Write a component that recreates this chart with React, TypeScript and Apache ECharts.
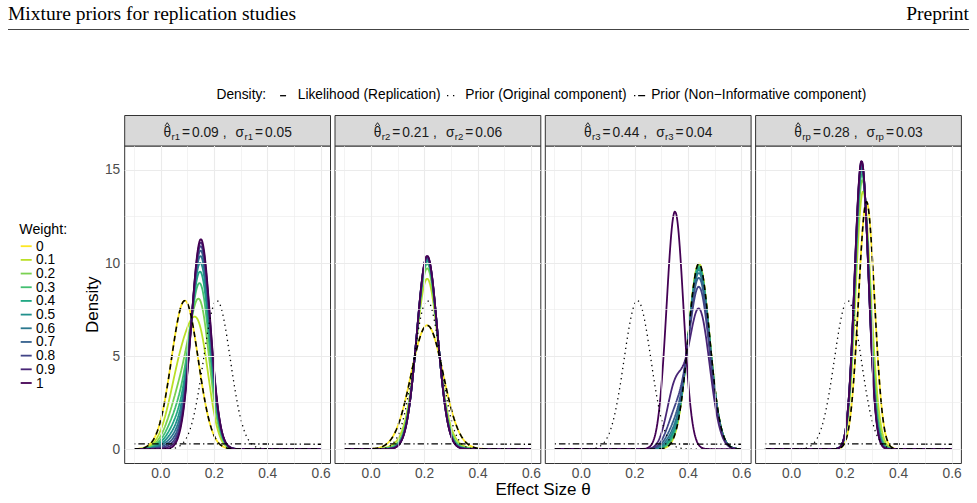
import React, { useEffect, useRef } from "react";
import * as echarts from "echarts";

// Study summaries shown in the facet strips
const panelKeys = ["r1", "r2", "r3", "rp"];
const replicationEstimates = [0.09, 0.21, 0.44, 0.28];
const replicationSEs = [0.05, 0.06, 0.04, 0.03];

// Mixture prior components
const originalEstimate = 0.21;
const originalSE = 0.05;
const nonInformativeMean = 0;
const nonInformativeVariance = 2;

// Prior weight given to the original-study component
const weights = [0, 0.1, 0.2, 0.3, 0.4, 0.5, 0.6, 0.7, 0.8, 0.9, 1];
const weightLabels = ["0", "0.1", "0.2", "0.3", "0.4", "0.5", "0.6", "0.7", "0.8", "0.9", "1"];
const weightColors = [
  "#FDE725", "#BBDF27", "#7AD151", "#43BF71", "#22A884", "#21908C",
  "#2A788E", "#35608D", "#414487", "#482576", "#440154",
];

// Effect-size support where densities are evaluated
const effectFrom = -0.1;
const effectTo = 0.6;
const effectStep = 0.002;

// Axis breaks
const xTicks = [0, 0.2, 0.4, 0.6];
const xMinorBreaks = [-0.1, 0.1, 0.3, 0.5];
const yTicks = [0, 5, 10, 15];
const yMinorBreaks = [2.5, 7.5, 12.5];

const densityKeys = [
  "Likelihood (Replication)",
  "Prior (Original component)",
  "Prior (Non\u2212Informative component)",
];

// ---- layout ----
const FONT = '"Liberation Sans", Arial, Helvetica, sans-serif';
const SERIF = '"Liberation Serif", "Times New Roman", serif';
const TEXT = 13.75;
const SUB = 9.6;
const PANEL_LEFT = 124.7;
const PANEL_STEP = 210.3;
const PANEL_W = 205.8;
const PANEL_TOP = 146;
const PANEL_H = 317.5;
const STRIP_TOP = 115.5;
const X_MIN = -0.135;
const X_MAX = 0.635;
const Y_MIN = -0.776;
const Y_MAX = 16.29;

const SQRT2PI = Math.sqrt(2 * Math.PI);
function normalPdf(x: number, m: number, sd: number) {
  const z = (x - m) / sd;
  return Math.exp(-0.5 * z * z) / (sd * SQRT2PI);
}

const effectGrid: number[] = [];
for (let k = 0; effectFrom + k * effectStep <= effectTo + 1e-9; k++) {
  effectGrid.push(+(effectFrom + k * effectStep).toFixed(4));
}

function posteriorCurve(panel: number, weight: number): number[][] {
  const y = replicationEstimates[panel];
  const s2 = replicationSEs[panel] ** 2;
  const so2 = originalSE ** 2;
  const v1 = 1 / (1 / so2 + 1 / s2);
  const m1 = v1 * (originalEstimate / so2 + y / s2);
  const v0 = 1 / (1 / nonInformativeVariance + 1 / s2);
  const m0 = v0 * (nonInformativeMean / nonInformativeVariance + y / s2);
  const f1 = normalPdf(y, originalEstimate, Math.sqrt(so2 + s2));
  const f0 = normalPdf(y, nonInformativeMean, Math.sqrt(nonInformativeVariance + s2));
  const q = (weight * f1) / (weight * f1 + (1 - weight) * f0);
  return effectGrid.map((x) => [
    x,
    q * normalPdf(x, m1, Math.sqrt(v1)) + (1 - q) * normalPdf(x, m0, Math.sqrt(v0)),
  ]);
}

function normalCurve(m: number, sd: number): number[][] {
  return effectGrid.map((x) => [x, normalPdf(x, m, sd)]);
}

let measureCtx: CanvasRenderingContext2D | null = null;
function measure(text: string, size: number) {
  if (!measureCtx) measureCtx = document.createElement("canvas").getContext("2d");
  measureCtx!.font = `${size}px "Liberation Sans"`;
  return measureCtx!.measureText(text).width;
}

// text element placed by its alphabetic baseline
function baselineText(text: string, x: number, baseline: number, size: number, fill: string, align = "left", family = FONT, central = 0.3465) {
  return {
    type: "text",
    x,
    y: baseline - central * size,
    silent: true,
    style: { text, fontSize: size, fontFamily: family, fill, align, verticalAlign: "middle" },
  };
}

function stripElements(i: number) {
  const left = PANEL_LEFT + i * PANEL_STEP;
  const cx = left + PANEL_W / 2;
  const baseline = 137.3;
  const key = panelKeys[i];
  const segs = [
    { text: "\u03B8", size: TEXT, gap: 0, sub: false },
    { text: key, size: SUB, gap: 0.4, sub: true },
    { text: "=", size: TEXT, gap: 2, sub: false },
    { text: replicationEstimates[i].toFixed(2), size: TEXT, gap: 2, sub: false },
    { text: ",", size: TEXT, gap: 4, sub: false },
    { text: "\u03C3", size: TEXT, gap: 9, sub: false },
    { text: key, size: SUB, gap: 0.4, sub: true },
    { text: "=", size: TEXT, gap: 2, sub: false },
    { text: replicationSEs[i].toFixed(2), size: TEXT, gap: 2, sub: false },
  ];
  const widths = segs.map((s) => measure(s.text, s.size));
  const total = segs.reduce((a, s, k) => a + s.gap + widths[k], 0);
  let x = cx - total / 2;
  const out: any[] = [
    {
      type: "rect",
      silent: true,
      shape: { x: left, y: STRIP_TOP, width: PANEL_W, height: PANEL_TOP - STRIP_TOP },
      style: { fill: "#D9D9D9", stroke: "#333333", lineWidth: 1 },
    },
  ];
  let thetaCenter = 0;
  segs.forEach((s, k) => {
    x += s.gap;
    if (k === 0) thetaCenter = x + widths[k] / 2;
    out.push(baselineText(s.text, x, baseline + (s.sub ? 2.8 : 0), s.size, "#1A1A1A"));
    x += widths[k];
  });
  out.push({
    type: "polyline",
    silent: true,
    shape: {
      points: [
        [thetaCenter - 2.3, baseline - 11.2],
        [thetaCenter, baseline - 14.6],
        [thetaCenter + 2.3, baseline - 11.2],
      ],
    },
    style: { stroke: "#1A1A1A", lineWidth: 0.9, fill: "none" },
  });
  return out;
}

function topLegend() {
  const out: any[] = [];
  const keyY = 95.7;
  const baseline = 98.8;
  let x = 216.5;
  out.push(baselineText("Density:", x, baseline, TEXT, "#000000"));
  x += measure("Density:", TEXT) + 11;
  const keyDraw = [
    (b: number) => ({ type: "line", silent: true, shape: { x1: b + 2.9, y1: keyY, x2: b + 8.9, y2: keyY }, style: { stroke: "#000", lineWidth: 1.3 } }),
    (b: number) => ({ type: "line", silent: true, shape: { x1: b + 2.3, y1: keyY, x2: b + 9.6, y2: keyY }, style: { stroke: "#000", lineWidth: 1.3, lineDash: [1.3, 4.7] } }),
    (b: number) => ({ type: "line", silent: true, shape: { x1: b + 3.5, y1: keyY, x2: b + 14.6, y2: keyY }, style: { stroke: "#000", lineWidth: 1.3, lineDash: [1.3, 2.8, 7, 5] } }),
  ];
  densityKeys.forEach((label, k) => {
    out.push(keyDraw[k](x));
    x += 17.3 + 3.3;
    out.push(baselineText(label, x, baseline, TEXT, "#000000"));
    x += measure(label, TEXT) + 4;
  });
  return out;
}

function weightLegend() {
  const out: any[] = [baselineText("Weight:", 19.3, 234, 14.2, "#000000")];
  weights.forEach((_, k) => {
    const cy = 246.2 + k * 13.68;
    out.push({
      type: "line",
      silent: true,
      shape: { x1: 20.7, y1: cy, x2: 31.7, y2: cy },
      style: { stroke: weightColors[k], lineWidth: 1.8 },
    });
    out.push({
      type: "text",
      x: 36,
      y: cy,
      silent: true,
      style: { text: weightLabels[k], fontSize: TEXT, fontFamily: FONT, fill: "#000000", align: "left", verticalAlign: "middle" },
    });
  });
  return out;
}

function buildOption() {
  const grid: any[] = [];
  const xAxis: any[] = [];
  const yAxis: any[] = [];
  const series: any[] = [];

  panelKeys.forEach((key, i) => {
    grid.push({
      left: PANEL_LEFT + i * PANEL_STEP,
      top: PANEL_TOP,
      width: PANEL_W,
      height: PANEL_H,
      show: true,
      backgroundColor: "#FFFFFF",
      borderColor: "#333333",
      borderWidth: 1,
    });
    xAxis.push({
      type: "value",
      gridIndex: i,
      min: X_MIN,
      max: X_MAX,
      axisLine: { show: false },
      splitLine: { show: false },
      axisTick: { show: true, customValues: xTicks, length: 4, lineStyle: { color: "#333333", width: 1 } },
      axisLabel: {
        customValues: xTicks,
        formatter: (v: number) => v.toFixed(1),
        color: "#4D4D4D",
        fontSize: TEXT,
        fontFamily: FONT,
        margin: 3,
      },
    });
    const first = i === 0;
    yAxis.push({
      type: "value",
      gridIndex: i,
      min: Y_MIN,
      max: Y_MAX,
      axisLine: { show: false },
      splitLine: { show: false },
      axisTick: { show: first, customValues: yTicks, length: 4, lineStyle: { color: "#333333", width: 1 } },
      axisLabel: {
        show: first,
        customValues: yTicks,
        formatter: (v: number) => String(v),
        color: "#4D4D4D",
        fontSize: TEXT,
        fontFamily: FONT,
        margin: 4.5,
      },
    });

    // panel grid lines
    const gl = (v: number, axis: "xAxis" | "yAxis", width: number) => ({ [axis]: v, lineStyle: { width } });
    series.push({
      type: "line",
      name: `grid-${key}`,
      xAxisIndex: i,
      yAxisIndex: i,
      z: 1,
      silent: true,
      symbol: "none",
      data: [[0, 0]],
      lineStyle: { opacity: 0 },
      markLine: {
        silent: true,
        symbol: ["none", "none"],
        label: { show: false },
        lineStyle: { color: "#EBEBEB", type: "solid" },
        emphasis: { disabled: true },
        data: [
          ...xMinorBreaks.map((v) => gl(v, "xAxis", 0.6)),
          ...yMinorBreaks.map((v) => gl(v, "yAxis", 0.6)),
          ...xTicks.map((v) => gl(v, "xAxis", 1.1)),
          ...yTicks.map((v) => gl(v, "yAxis", 1.1)),
        ],
      },
    });

    weights.forEach((w, k) => {
      series.push({
        type: "line",
        name: `${key}-w${weightLabels[k]}`,
        xAxisIndex: i,
        yAxisIndex: i,
        z: 2,
        silent: true,
        symbol: "none",
        showSymbol: false,
        data: posteriorCurve(i, w),
        lineStyle: { color: weightColors[k], width: 1.8 },
      });
    });

    series.push({
      type: "line",
      name: `${key}-likelihood`,
      xAxisIndex: i,
      yAxisIndex: i,
      z: 3,
      silent: true,
      symbol: "none",
      data: normalCurve(replicationEstimates[i], replicationSEs[i]),
      lineStyle: { color: "#000000", width: 1.6, type: [5.5, 4] },
    });
    series.push({
      type: "line",
      name: `${key}-prior-original`,
      xAxisIndex: i,
      yAxisIndex: i,
      z: 3,
      silent: true,
      symbol: "none",
      data: normalCurve(originalEstimate, originalSE),
      lineStyle: { color: "#000000", width: 1.3, type: [1.3, 3.8] },
    });
    series.push({
      type: "line",
      name: `${key}-prior-noninformative`,
      xAxisIndex: i,
      yAxisIndex: i,
      z: 3,
      silent: true,
      symbol: "none",
      data: normalCurve(nonInformativeMean, Math.sqrt(nonInformativeVariance)),
      lineStyle: { color: "#000000", width: 1.3, type: [1.3, 3, 6.5, 3] },
    });
  });

  const graphic: any[] = [
    baselineText("Mixture priors for replication studies", 8, 20.5, 19.5, "#000000", "left", SERIF, 0.3375),
    baselineText("Preprint", 969, 20.5, 19.5, "#000000", "right", SERIF, 0.3375),
    { type: "line", silent: true, shape: { x1: 8, y1: 29.5, x2: 969, y2: 29.5 }, style: { stroke: "#444444", lineWidth: 1.2 } },
    ...topLegend(),
    ...weightLegend(),
    ...panelKeys.flatMap((_, i) => stripElements(i)),
    {
      type: "text",
      x: 92,
      y: PANEL_TOP + PANEL_H / 2,
      rotation: Math.PI / 2,
      silent: true,
      style: { text: "Density", fontSize: 17, fontFamily: FONT, fill: "#000000", align: "center", verticalAlign: "middle" },
    },
    {
      type: "text",
      x: PANEL_LEFT + (3 * PANEL_STEP + PANEL_W) / 2,
      y: 489.5,
      silent: true,
      style: { text: "Effect Size \u03B8", fontSize: 17, fontFamily: FONT, fill: "#000000", align: "center", verticalAlign: "middle" },
    },
  ];

  return {
    animation: false,
    backgroundColor: "#FFFFFF",
    textStyle: { fontFamily: FONT },
    grid,
    xAxis,
    yAxis,
    series,
    graphic,
  };
}

export default function App() {
  const ref = useRef<HTMLDivElement>(null);
  useEffect(() => {
    if (!ref.current) return;
    const chart = echarts.init(ref.current, undefined, { renderer: "svg" });
    chart.setOption(buildOption() as any);
    return () => chart.dispose();
  }, []);
  return (
    <div
      ref={ref}
      style={{ position: "absolute", left: 0, top: 0, width: 977, height: 503, background: "#FFFFFF" }}
    />
  );
}
